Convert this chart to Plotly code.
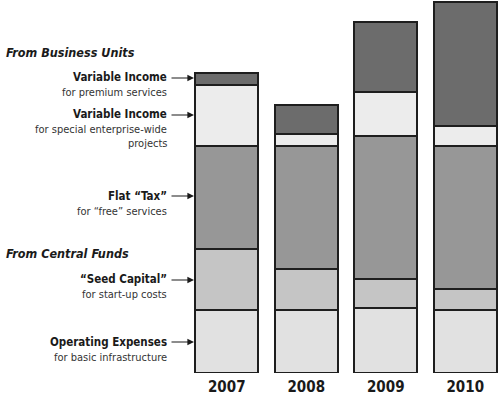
import plotly.graph_objects as go

years = ["2007", "2008", "2009", "2010"]
operating_expenses = [63, 63, 65, 63]
seed_capital = [61, 41, 29, 21]
flat_tax = [103, 123, 143, 143]
variable_special = [61, 12, 44, 20]
variable_premium = [12, 29, 70, 124]

series = [
    ("Operating Expenses", operating_expenses, "#e1e1e1"),
    ("Seed Capital", seed_capital, "#c5c5c5"),
    ("Flat Tax", flat_tax, "#979797"),
    ("Variable Income (special)", variable_special, "#ececec"),
    ("Variable Income (premium)", variable_premium, "#6c6c6c"),
]

FONT = "DejaVu Sans Condensed, Liberation Sans Narrow, sans-serif"

fig = go.Figure()
for name, vals, col in series:
    fig.add_trace(go.Bar(
        x=years, y=vals, name=name, width=0.79,
        marker=dict(color=col, line=dict(color="#1e1e1e", width=2)),
    ))

W, H = 500, 398
L, B = 187, 25
plot_w = W - L
def px(xp):
    return (xp - L) / plot_w

def dy(py):
    return (H - B) - py

ann = []
# headings
for txt, py in [("From Business Units", 52), ("From Central Funds", 253)]:
    ann.append(dict(text=f"<b><i>{txt}</i></b>", x=px(4), y=dy(py), xref="paper", yref="y",
                    xanchor="left", yanchor="middle", showarrow=False,
                    font=dict(family=FONT, size=12.5, color="#1a1a1a")))

labels = [
    ("Variable Income", ["for premium services"], 77, 78),
    ("Variable Income", ["for special enterprise-wide", "projects"], 114, 115),
    ("Flat “Tax”", ["for “free” services"], 196, 196),
    ("“Seed Capital”", ["for start-up costs"], 279, 280),
    ("Operating Expenses", ["for basic infrastructure"], 342, 342),
]
for bold, subs, py, arrow_py in labels:
    ann.append(dict(text=f"<b>{bold}</b>", x=px(169), y=dy(py), xref="paper", yref="y",
                    xanchor="right", yanchor="middle", showarrow=False,
                    font=dict(family=FONT, size=11.5, color="#1a1a1a")))
    for i, s in enumerate(subs):
        ann.append(dict(text=s, x=px(169), y=dy(py + 15 + 14 * i), xref="paper", yref="y",
                        xanchor="right", yanchor="middle", showarrow=False,
                        font=dict(family=FONT, size=11, color="#333333")))
    ann.append(dict(text="", x=px(194), y=dy(arrow_py), xref="paper", yref="y",
                    showarrow=True, ax=-24, ay=0, axref="pixel", ayref="pixel",
                    arrowhead=2, arrowsize=1.1, arrowwidth=1.2, arrowcolor="#1a1a1a"))

fig.update_layout(
    barmode="stack",
    width=W, height=H,
    margin=dict(l=L, r=0, t=0, b=B, pad=0),
    paper_bgcolor="white", plot_bgcolor="white",
    showlegend=False,
    annotations=ann,
    xaxis=dict(range=[-0.5, -0.5 + plot_w / 79.5], showgrid=False, zeroline=False,
               showline=False, ticks="", ticklabelstandoff=3,
               tickfont=dict(family=FONT, size=15, color="#1a1a1a"),
               tickprefix="<b>", ticksuffix="</b>"),
    yaxis=dict(range=[0, H - B], visible=False, showgrid=False, zeroline=False),
)

fig.write_html("out.html", config={"displayModeBar": False},
               post_script="document.body.style.margin='0';document.body.style.padding='0';")
